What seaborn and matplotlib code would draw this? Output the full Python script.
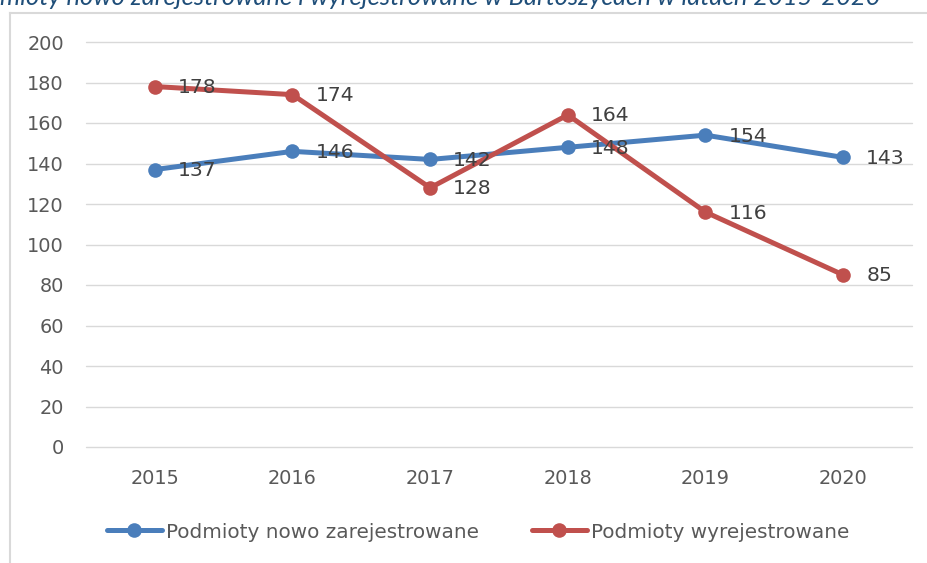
import matplotlib
matplotlib.use("Agg")
import matplotlib.pyplot as plt
import seaborn as sns
import pandas as pd
from matplotlib.lines import Line2D
from matplotlib.textpath import TextPath
from matplotlib.font_manager import FontProperties

years = ["2015", "2016", "2017", "2018", "2019", "2020"]
registered = [137, 146, 142, 148, 154, 143]
deregistered = [178, 174, 128, 164, 116, 85]
series_names = ["Podmioty nowo zarejestrowane", "Podmioty wyrejestrowane"]
title_text = "mioty nowo zarejestrowane i wyrejestrowane w Bartoszycach w latach 2015-2020"
yticks = [0, 20, 40, 60, 80, 100, 120, 140, 160, 180, 200]

blue = "#4A7EBB"
red = "#C0504D"
DPI = 100


def fit_size(text, target_px, family, style="normal"):
    fp = FontProperties(family=family, style=style, size=100)
    w = TextPath((0, 0), text, prop=fp).get_extents().width
    w_px = w * DPI / 72.0
    return 100 * target_px / w_px


sns.set_theme(style="white")
plt.rcParams['font.family'] = ['DejaVu Sans']

df = pd.DataFrame({
    "x": list(range(len(years))) * 2,
    "value": registered + deregistered,
    "series": [series_names[0]] * len(years) + [series_names[1]] * len(years),
})

fig = plt.figure(figsize=(9.28, 5.63), dpi=DPI, facecolor="white", edgecolor="white",
                 linewidth=0)
ax = fig.add_axes([86 / 928, 1 - 447 / 563, (912 - 86) / 928, (447 - 42) / 563])

sns.lineplot(data=df, x="x", y="value", hue="series", palette=[blue, red],
             marker="o", markersize=10.5, markeredgewidth=0, linewidth=3.6,
             ax=ax, legend=False, zorder=3)

lab_size = fit_size("137", 35, "DejaVu Sans")
for vals in (registered, deregistered):
    for i, v in enumerate(vals):
        ax.annotate(str(v), (i, v), xytext=(23, -1), textcoords="offset pixels",
                    ha="left", va="center", fontsize=lab_size, color="#404040", zorder=4)

ax.set_xlim(-0.5, len(years) - 0.5)
ax.set_ylim(0, 200)
ax.set_yticks(yticks)
ax.set_xticks(range(len(years)))
ax.set_xticklabels(years)
ax.set_xlabel("")
ax.set_ylabel("")
ax.grid(False)
for t in yticks:
    ax.axhline(t, color="#D9D9D9", linewidth=1, zorder=0, clip_on=False)
for s in ax.spines.values():
    s.set_visible(False)
tick_size = fit_size("200", 34, "DejaVu Sans")
ax.tick_params(axis="y", length=0, pad=16, labelsize=tick_size, labelcolor="#595959")
ax.tick_params(axis="x", length=0, pad=16, labelsize=tick_size, labelcolor="#595959")

leg_size = fit_size(series_names[0], 309, "DejaVu Sans")
fs_px = leg_size * DPI / 72.0
handles = [Line2D([0], [0], color=blue, lw=3.6, marker="o", markersize=10.5, markeredgewidth=0),
           Line2D([0], [0], color=red, lw=3.6, marker="o", markersize=10.5, markeredgewidth=0)]
fig.legend(handles, series_names, loc="center", bbox_to_anchor=(478 / 928, 1 - 532 / 563),
           ncol=2, frameon=False, fontsize=leg_size, handlelength=55 / fs_px,
           handletextpad=4 / fs_px, columnspacing=53 / fs_px, labelcolor="#595959",
           borderpad=0, borderaxespad=0)

# outer chart frame (left and top edges visible, the rest lies outside the image)
fx = 10 / 928
fy = 1 - 13 / 563
fig.add_artist(Line2D([fx, fx], [-0.05, fy], transform=fig.transFigure, color="#D9D9D9",
                      lw=1.5, solid_capstyle="projecting"))
fig.add_artist(Line2D([fx, 1.05], [fy, fy], transform=fig.transFigure, color="#D9D9D9",
                      lw=1.5, solid_capstyle="projecting"))

title_size = fit_size(title_text, 877, "Lato", "italic")
fig.text(0, 1 - 5 / 563, title_text, ha="left", va="baseline", fontsize=title_size,
         style="italic", color="#1F4E79", family="Lato")

fig.savefig("out.png", dpi=DPI, facecolor="white")
